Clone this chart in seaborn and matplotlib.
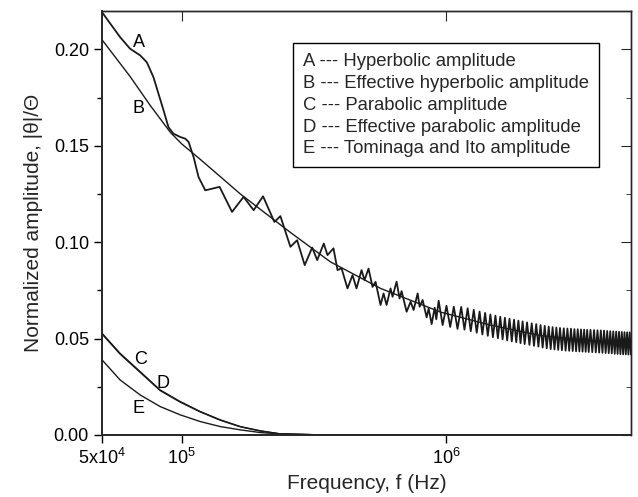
import numpy as np
import matplotlib
matplotlib.use("Agg")
import matplotlib.pyplot as plt
import seaborn as sns
from matplotlib.ticker import MultipleLocator, NullLocator, FormatStrFormatter

sns.set_style("ticks")
plt.rcParams['font.family'] = ['Liberation Sans', 'DejaVu Sans']
plt.rcParams['mathtext.default'] = 'regular'

# A: hyperbolic amplitude (frequency in kHz)
a_khz = [50, 58.5, 63.8, 69.7, 73.8, 78.2, 81.7, 85.4, 89.1, 93.1, 98.7, 103.2,
         106.2, 110.9, 115.8, 122.8, 139.1, 155.0, 171.4, 187.1, 203.1, 224.1,
         236.2, 257.7, 273.2, 291.9, 311.5, 325.4, 344.6, 355.9, 375, 388.4,
         402.1, 423.6, 442.6, 458.2, 478.7, 491.3, 508.8, 526.8, 540.8, 564.9,
         579.9, 595.3, 616.3, 627.2, 649.4, 666.8, 678.5, 708.8, 734, 753.4,
         780.2, 794, 814.9, 843.8, 858.6, 881.4, 905, 918, 937, 970, 1003, 1036,
         1069, 1104, 1140, 1173, 1206, 1239, 1272, 1305, 1338, 1371, 1404, 1437,
         1470, 1503, 1536, 1569, 1602, 1635, 1668, 1701, 1736, 1771, 1806,
         1841, 1876, 1911, 1946, 1981, 2023, 2065, 2107, 2149, 2191, 2233,
         2275, 2317, 2359, 2401, 2443, 2485, 2527, 2569, 2611, 2653, 2695,
         2740, 2785, 2830, 2875, 2920, 2965, 3010, 3055, 3100, 3145, 3190,
         3235, 3280, 3325, 3370, 3415, 3460, 3515, 3570, 3625, 3680, 3735,
         3790, 3845, 3900, 3955, 4010, 4065, 4120, 4175, 4230, 4285, 4340,
         4395, 4450, 4505, 4560, 4615, 4670, 4725, 4780, 4835, 4890, 4945, 5000]
a_amp = [0.2193, 0.2064, 0.2004, 0.1969, 0.1934, 0.1856, 0.177, 0.1684, 0.1597,
         0.1563, 0.1546, 0.1537, 0.152, 0.1442, 0.1338, 0.1269, 0.1287, 0.1157,
         0.1235, 0.1166, 0.1238, 0.1105, 0.1135, 0.0976, 0.101, 0.0881, 0.0972,
         0.0907, 0.0993, 0.0933, 0.0968, 0.0855, 0.0865, 0.076, 0.0829, 0.076,
         0.0855, 0.0803, 0.0863, 0.0768, 0.0794, 0.0674, 0.0734, 0.0674, 0.076,
         0.0717, 0.0795, 0.0708, 0.0746, 0.0639, 0.0691, 0.0648, 0.0734, 0.0665,
         0.070, 0.061, 0.0656, 0.0575, 0.066, 0.060, 0.0696, 0.057, 0.067, 0.056,
         0.0665, 0.055, 0.0664, 0.0546, 0.0657, 0.0538, 0.0649, 0.053, 0.064,
         0.0521, 0.0633, 0.0514, 0.0625, 0.0507, 0.0619, 0.0501, 0.0613, 0.0496,
         0.0608, 0.049, 0.0603, 0.0485, 0.0598, 0.0481, 0.0593, 0.0476, 0.0589,
         0.0471, 0.0584, 0.0467, 0.0579, 0.0462, 0.0575, 0.0458, 0.057, 0.0453,
         0.0566, 0.0449, 0.0562, 0.0445, 0.0559, 0.0443, 0.0557, 0.0441, 0.0555,
         0.0439, 0.0553, 0.0437, 0.0552, 0.0436, 0.0551, 0.0435, 0.0549, 0.0434,
         0.0548, 0.0433, 0.0547, 0.0432, 0.0546, 0.0431, 0.0545, 0.043, 0.0545,
         0.0429, 0.0544, 0.0428, 0.0543, 0.0427, 0.0542, 0.0426, 0.0541, 0.0425,
         0.0539, 0.0424, 0.0538, 0.0423, 0.0537, 0.0421, 0.0536, 0.042, 0.0535,
         0.0419, 0.0534, 0.0418, 0.0533, 0.0418, 0.0532, 0.0417, 0.0532, 0.0417]

# B: effective hyperbolic amplitude
b_khz = [50, 63.8, 76, 90.6, 100, 117.5, 166.7, 258, 365, 565, 953, 1470, 2280, 3520, 5000]
b_amp = [0.205, 0.186, 0.171, 0.157, 0.151, 0.143, 0.125, 0.105, 0.0898, 0.076,
         0.0637, 0.057, 0.0515, 0.049, 0.0477]

# C, D, E: parabolic, effective parabolic, Tominaga and Ito
ce_khz = [50, 58.5, 69.7, 82.9, 98.7, 117.6, 140, 166.6, 198.4, 236.2, 335, 600, 5000]
c_amp = [0.0527, 0.0423, 0.0328, 0.0233, 0.0173, 0.0121, 0.0078, 0.0043, 0.0021, 0.0005, 0.0, 0.0, 0.0]
d_amp = [0.0523, 0.0419, 0.0324, 0.0230, 0.0170, 0.0119, 0.0076, 0.0042, 0.0020, 0.0005, 0.0, 0.0, 0.0]
e_amp = [0.0389, 0.0285, 0.0207, 0.0147, 0.0104, 0.0069, 0.0043, 0.0026, 0.0012, 0.0005, 0.0, 0.0, 0.0]

labels = ['A --- Hyperbolic amplitude',
          'B --- Effective hyperbolic amplitude',
          'C --- Parabolic amplitude',
          'D --- Effective parabolic amplitude',
          'E --- Tominaga and Ito amplitude']

fig = plt.figure(figsize=(6.38, 4.97), dpi=100)
ax = fig.add_axes([0.16, 0.125, 0.829, 0.853])
ax.set_xscale('log')

ink = '#1a1a1a'
series = [(a_khz, a_amp, 1.3), (b_khz, b_amp, 1.0), (ce_khz, c_amp, 1.0),
          (ce_khz, d_amp, 1.0), (ce_khz, e_amp, 1.0)]
for (fk, amp, lw), lab in zip(series, labels):
    sns.lineplot(x=np.array(fk) * 1e3, y=amp, ax=ax, color=ink, lw=lw,
                 label=lab, estimator=None, sort=False)

ax.set_xlim(5e4, 5e6)
ax.set_ylim(0, 0.22)

ax.set_xticks([5e4, 1e5, 1e6])
ax.set_xticklabels(['5x10$^4$', '10$^5$', '10$^6$'])
ax.xaxis.set_minor_locator(NullLocator())
ax.yaxis.set_major_locator(MultipleLocator(0.05))
ax.yaxis.set_minor_locator(MultipleLocator(0.025))
ax.yaxis.set_major_formatter(FormatStrFormatter('%.2f'))
ax.tick_params(which='both', direction='out', top=False, right=False,
               labelsize=13, colors='k')
ax.tick_params(which='major', length=6, width=1)
ax.tick_params(which='minor', length=3.5, width=1)

for side in ['left', 'bottom']:
    ax.spines[side].set_linewidth(1.4)
for side in ['top', 'right']:
    ax.spines[side].set_linewidth(1.0)

# mirrored ticks pointing inward on top and right
top = ax.secondary_xaxis('top')
top.set_xticks([1e5, 1e6])
top.xaxis.set_minor_locator(NullLocator())
top.tick_params(which='both', direction='in', length=7, labeltop=False)
top.spines['top'].set_linewidth(1.0)
right = ax.secondary_yaxis('right')
right.yaxis.set_major_locator(MultipleLocator(0.05))
right.yaxis.set_minor_locator(MultipleLocator(0.025))
right.tick_params(which='major', direction='in', length=7, labelright=False)
right.tick_params(which='minor', direction='in', length=3.5, labelright=False)
right.spines['right'].set_linewidth(1.0)

ax.set_xlabel('Frequency, f (Hz)', fontsize=15, labelpad=4)
ax.set_ylabel('Normalized amplitude, |θ|/Θ', fontsize=15, labelpad=8)

# curve letters
for txt, fx, fy in [('A', 6.9e4, 0.2036), ('B', 6.85e4, 0.1694), ('C', 6.97e4, 0.0389),
                    ('D', 8.52e4, 0.0269), ('E', 6.85e4, 0.0135)]:
    ax.text(fx, fy, txt, fontsize=13, ha='center', va='center', color='k')

leg = ax.legend(loc='upper right', bbox_to_anchor=(0.9395, 0.9245), handlelength=0,
                handletextpad=0, fontsize=13.3, fancybox=False, frameon=True,
                edgecolor='k', framealpha=1, labelspacing=0.26, borderpad=0.55,
                borderaxespad=0)
leg.get_frame().set_linewidth(1.0)

fig.savefig('out.png', dpi=100)
